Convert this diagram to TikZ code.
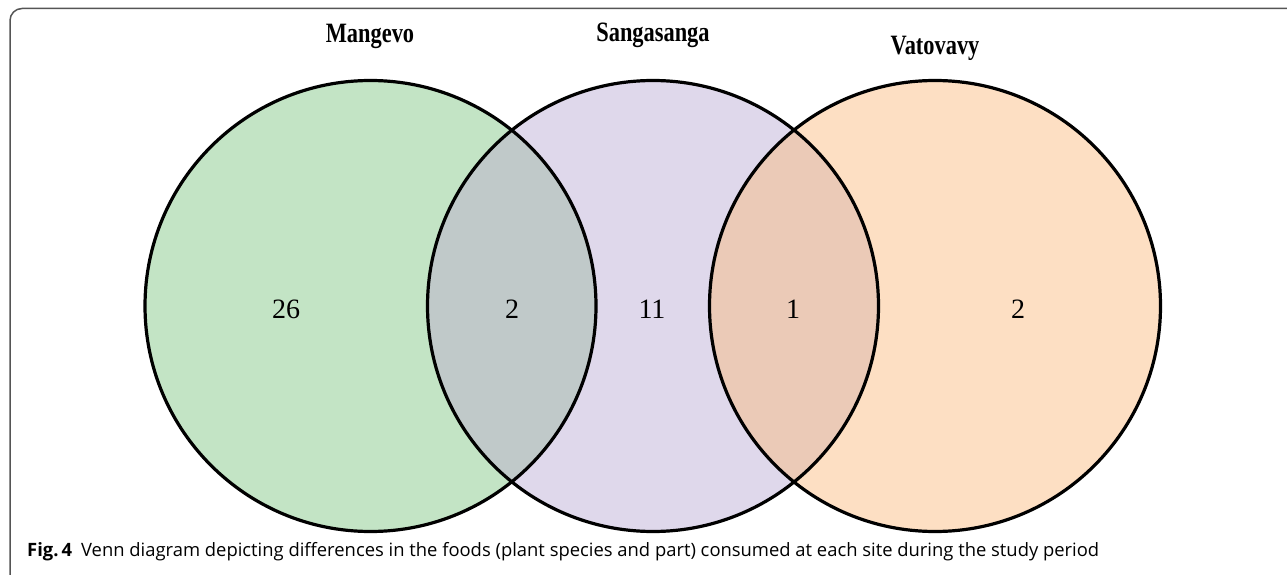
\documentclass[tikz,border=0pt]{standalone}
\usepackage{fontspec}
\setmainfont{Liberation Serif}
\newfontfamily\capfont{Open Sans}
\definecolor{cM}{HTML}{C3E4C5}
\definecolor{cS}{HTML}{DFD8EB}
\definecolor{cV}{HTML}{FDDFC3}
\definecolor{cMS}{HTML}{C0C9C9}
\definecolor{cSV}{HTML}{EBCAB7}
\definecolor{framecol}{HTML}{555555}
\tikzset{
  sitelabel/.style={font=\fontsize{28}{30}\selectfont\bfseries, inner sep=0pt, xscale=0.8},
  count/.style={font=\fontsize{28}{30}\selectfont, inner sep=0pt},
  ring/.style={draw=black, line width=3.2pt},
}
\begin{document}
\begin{tikzpicture}[x=1pt,y=-1pt]
\useasboundingbox (0,0) rectangle (1287,575);
\fill[white] (0,0) rectangle (1287,575);
\draw[framecol, line width=1.5pt, rounded corners=12pt] (10,580) -- (10,8.5) -- (1295,8.5);
% circles
\fill[cM] (370.5,306) circle (225.5pt);
\fill[cS] (653,306) circle (225.5pt);
\fill[cV] (935,306) circle (225.5pt);
\begin{scope}
  \clip (370.5,306) circle (225.5pt);
  \fill[cMS] (653,306) circle (225.5pt);
\end{scope}
\begin{scope}
  \clip (653,306) circle (225.5pt);
  \fill[cSV] (935,306) circle (225.5pt);
\end{scope}
\draw[ring] (370.5,306) circle (225.5pt);
\draw[ring] (653,306) circle (225.5pt);
\draw[ring] (935,306) circle (225.5pt);
% labels
\node[sitelabel] (lm) at (370,36) {Mangevo};
\node[sitelabel] (ls) at (653,35) {Sangasanga};
\node[sitelabel] (lv) at (935,48) {Vatovavy};
\node[count] (n1) at (286,309) {26};
\node[count] (n2) at (512,309) {2};
\node[count] (n3) at (652,309) {11};
\node[count] (n4) at (793,309) {1};
\node[count] (n5) at (1018,309) {2};
% caption
\node[anchor=west, inner sep=0pt, font=\capfont\fontsize{18.4}{20}\selectfont] (cap) at (27,552)
  {\textbf{Fig.\,4}\hspace{9pt}Venn diagram depicting differences in the foods (plant species and part) consumed at each site during the study period};
\end{tikzpicture}
\end{document}
